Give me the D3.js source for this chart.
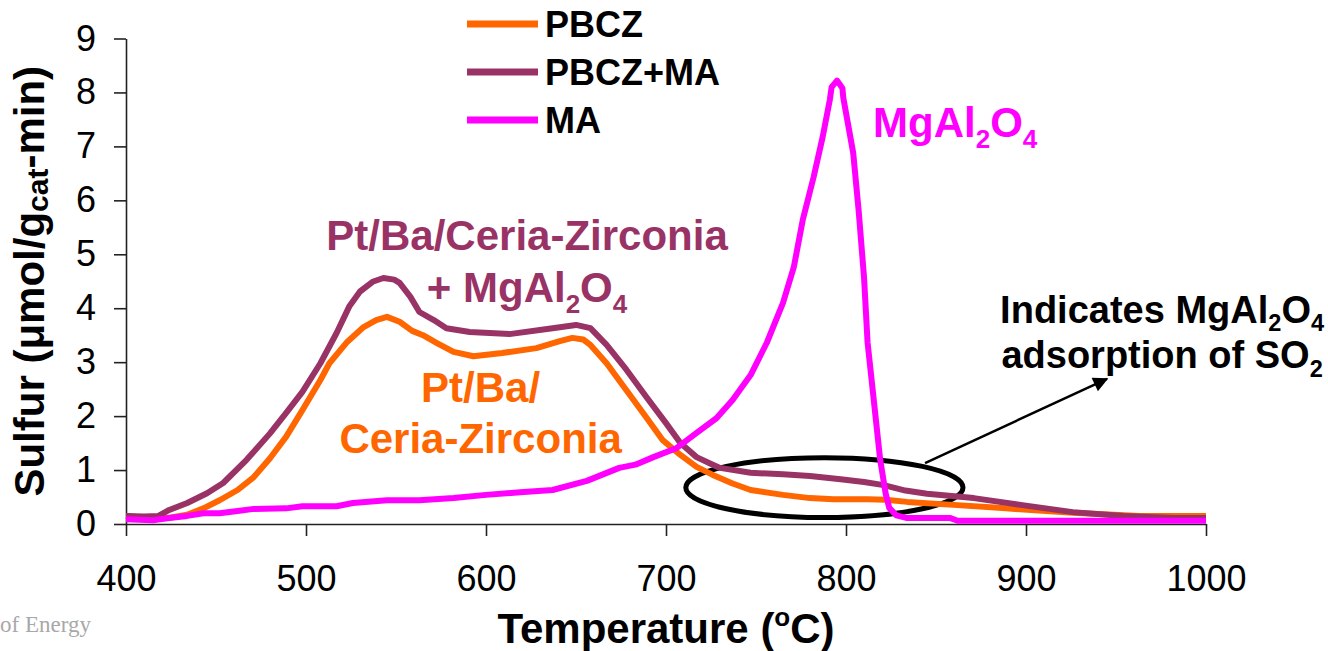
<!DOCTYPE html>
<html>
<head>
<meta charset="utf-8">
<script src="https://cdn.jsdelivr.net/npm/d3@7"></script>
<style>
body { margin: 0; background: #fff; }
svg { display: block; font-family: "Liberation Sans", Arial, sans-serif; }
</style>
</head>
<body>
<div class="sulfur-plot"></div>
<script>
// series: [temperature (C), sulfur (umol/gcat-min)]
const pbcz = [[400,0.15],[415,0.10],[425,0.12],[434,0.17],[443,0.29],[452,0.44],[462,0.63],[471,0.87],[480,1.22],[489,1.62],[498,2.11],[508,2.67],[513,2.98],[523,3.38],[532,3.65],[539,3.78],[545,3.84],[552,3.75],[559,3.58],[565,3.50],[573,3.35],[582,3.19],[593,3.11],[609,3.17],[628,3.26],[641,3.39],[648,3.45],[654,3.42],[658,3.32],[667,2.98],[678,2.48],[689,1.98],[698,1.56],[708,1.28],[717,1.06],[726,0.91],[737,0.75],[747,0.63],[765,0.54],[780,0.48],[793,0.46],[812,0.46],[822,0.45],[834,0.41],[862,0.35],[889,0.29],[926,0.21],[963,0.15],[1000,0.15]];
const pbczMa = [[400,0.15],[410,0.14],[418,0.15],[424,0.26],[434,0.39],[445,0.57],[454,0.76],[467,1.19],[480,1.68],[489,2.06],[498,2.45],[508,2.98],[517,3.54],[524,4.03],[530,4.31],[537,4.49],[543,4.56],[549,4.53],[552,4.47],[558,4.21],[563,3.93],[571,3.78],[578,3.63],[591,3.56],[613,3.52],[637,3.63],[650,3.69],[658,3.63],[667,3.32],[678,2.86],[689,2.36],[700,1.87],[708,1.50],[717,1.24],[726,1.10],[730,1.04],[747,0.95],[765,0.92],[780,0.89],[797,0.83],[810,0.78],[821,0.72],[833,0.62],[845,0.56],[871,0.48],[898,0.35],[926,0.22],[954,0.15],[982,0.11],[1000,0.11]];
const ma = [[400,0.09],[415,0.07],[424,0.11],[434,0.15],[443,0.20],[452,0.20],[462,0.24],[471,0.28],[489,0.29],[498,0.33],[517,0.33],[526,0.39],[545,0.44],[563,0.44],[582,0.48],[600,0.54],[619,0.59],[637,0.63],[656,0.80],[674,1.04],[683,1.10],[693,1.24],[706,1.41],[717,1.69],[728,1.96],[737,2.30],[747,2.76],[756,3.36],[765,4.10],[771,4.76],[776,5.64],[782,6.43],[787,7.17],[791,7.86],[792,8.10],[795,8.22],[798,8.08],[798.5,7.90],[804,6.88],[807,5.82],[810,4.58],[812,3.36],[815,2.43],[819,1.19],[822,0.57],[824,0.30],[828,0.16],[834,0.11],[858,0.11],[862,0.06],[1000,0.06]];

const seriesNames = ['PBCZ', 'PBCZ+MA', 'MA'];
const seriesColors = ['#ff6600', '#993366', '#ff00ff'];
const xTicks = [400, 500, 600, 700, 800, 900, 1000];
const yTicks = [0, 1, 2, 3, 4, 5, 6, 7, 8, 9];

const width = 1328;
const height = 651;

const svg = d3.select('.sulfur-plot')
	.append('svg')
	.attr('width', width)
	.attr('height', height);

const x = d3.scaleLinear().domain([400, 1000]).range([126, 1206]);
const y = d3.scaleLinear().domain([0, 9]).range([524, 38.5]);

// axes
const xAxis = svg.append('g')
	.attr('transform', `translate(0,${y(0)})`)
	.call(d3.axisBottom(x).tickValues(xTicks).tickFormat(d3.format('d'))
		.tickSize(12).tickSizeOuter(0).tickPadding(29));
const yAxis = svg.append('g')
	.attr('transform', `translate(${x(400)},0)`)
	.call(d3.axisLeft(y).tickValues(yTicks).tickFormat(d3.format('d'))
		.tickSize(12).tickSizeOuter(0).tickPadding(18));
[xAxis, yAxis].forEach(a => {
	a.select('.domain').attr('stroke', '#222').attr('stroke-width', 1.6);
	a.selectAll('.tick line').attr('stroke', '#222').attr('stroke-width', 1.6);
	a.selectAll('.tick text')
		.attr('font-size', '36px')
		.attr('font-family', '"Liberation Sans", Arial, sans-serif')
		.attr('fill', '#000');
});

// ellipse marking the adsorption region
const ellT = [711, 865];
const ellV = [0.12, 1.23];
svg.append('ellipse')
	.attr('cx', (x(ellT[0]) + x(ellT[1])) / 2)
	.attr('cy', (y(ellV[0]) + y(ellV[1])) / 2)
	.attr('rx', (x(ellT[1]) - x(ellT[0])) / 2)
	.attr('ry', (y(ellV[0]) - y(ellV[1])) / 2)
	.attr('fill', 'none')
	.attr('stroke', '#000')
	.attr('stroke-width', 5);

// lines
const line = d3.line().x(d => x(d[0])).y(d => y(d[1]));
[pbcz, pbczMa, ma].forEach((s, i) => {
	svg.append('path')
		.datum(s)
		.attr('d', line)
		.attr('fill', 'none')
		.attr('stroke', seriesColors[i])
		.attr('stroke-width', 6)
		.attr('stroke-linejoin', 'round')
		.attr('stroke-linecap', 'butt');
});

// legend
const legend = svg.selectAll('g.legend')
	.data(seriesNames)
	.enter()
	.append('g')
	.attr('class', 'legend')
	.attr('transform', (d, i) => `translate(467,${24 + i * 48})`);
legend.append('line')
	.attr('x1', 0).attr('x2', 71)
	.attr('stroke', (d, i) => seriesColors[i])
	.attr('stroke-width', 7);
legend.append('text')
	.attr('x', 78)
	.attr('y', 13)
	.attr('font-size', '36px')
	.attr('font-weight', 'bold')
	.text(d => d);

// text with sub/superscripts: parts = [[text, baseline offset]]
function richText(g, parts, size, fill, anchor) {
	const t = g.append('text')
		.attr('font-size', size + 'px')
		.attr('font-weight', 'bold')
		.attr('fill', fill)
		.attr('text-anchor', anchor);
	let cur = 0;
	parts.forEach(p => {
		const ts = t.append('tspan').text(p[0]).attr('dy', p[1] - cur);
		if (p[1] !== 0) ts.attr('font-size', (size * 0.62) + 'px');
		cur = p[1];
	});
	return t;
}

// annotations (positions in data units)
const sub = 11;
richText(svg.append('g').attr('transform', `translate(${x(622.8)},${y(5.08)})`),
	[['Pt/Ba/Ceria-Zirconia', 0]], 42, '#993366', 'middle');
richText(svg.append('g').attr('transform', `translate(${x(622.8)},${y(4.12)})`),
	[['+ MgAl', 0], ['2', sub], ['O', 0], ['4', sub]], 42, '#993366', 'middle');
richText(svg.append('g').attr('transform', `translate(${x(597)},${y(2.26)})`),
	[['Pt/Ba/', 0]], 42, '#ff6600', 'middle');
richText(svg.append('g').attr('transform', `translate(${x(597)},${y(1.32)})`),
	[['Ceria-Zirconia', 0]], 42, '#ff6600', 'middle');
richText(svg.append('g').attr('transform', `translate(${x(815)},${y(7.17)})`),
	[['MgAl', 0], ['2', sub], ['O', 0], ['4', sub]], 42, '#ff00ff', 'start');
richText(svg.append('g').attr('transform', `translate(${x(975.6)},${y(3.73)})`),
	[['Indicates MgAl', 0], ['2', 8], ['O', 0], ['4', 8]], 38, '#000', 'middle');
richText(svg.append('g').attr('transform', `translate(${x(975.6)},${y(2.89)})`),
	[['adsorption of SO', 0], ['2', 9]], 38, '#000', 'middle');

// arrow
svg.append('defs').append('marker')
	.attr('id', 'arrowhead')
	.attr('viewBox', '0 0 10 10')
	.attr('refX', 9).attr('refY', 5)
	.attr('markerWidth', 7).attr('markerHeight', 6)
	.attr('markerUnits', 'strokeWidth')
	.attr('orient', 'auto')
	.append('path')
	.attr('d', 'M0,0 L10,5 L0,10 Z')
	.attr('fill', '#000');
svg.append('line')
	.attr('x1', x(843.9)).attr('y1', y(1.13))
	.attr('x2', x(945)).attr('y2', y(2.69))
	.attr('stroke', '#000')
	.attr('stroke-width', 2.5)
	.attr('marker-end', 'url(#arrowhead)');

// axis titles
richText(svg.append('g').attr('transform', `translate(${(x(400) + x(1000)) / 2},643)`),
	[['Temperature (', 0], ['o', -17], ['C)', 0]], 42, '#000', 'middle');
const yt = richText(svg.append('g').attr('transform', `translate(44,${(y(0) + y(9)) / 2}) rotate(-90)`),
	[['Sulfur (\u03bcmol/g', 0], ['cat', 4], ['-min)', 0]], 42, '#000', 'middle');
yt.selectAll('tspan').filter((d, i) => i === 1).attr('font-size', '30px');

// faint watermark
svg.append('text')
	.attr('x', 0)
	.attr('y', 632)
	.attr('font-family', '"Liberation Serif", "Times New Roman", serif')
	.attr('font-size', '23px')
	.attr('fill', '#a8a8a8')
	.text('of Energy');
</script>
</body>
</html>
